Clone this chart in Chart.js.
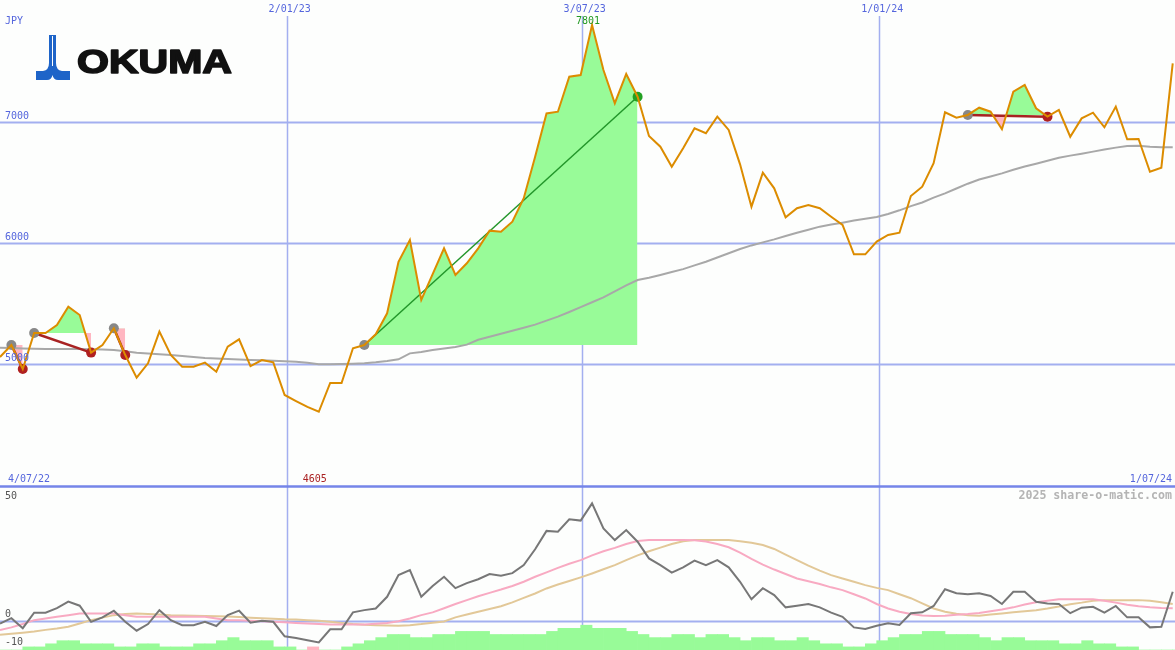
<!DOCTYPE html>
<html>
<head>
<meta charset="utf-8">
<script src="https://cdn.jsdelivr.net/npm/chart.js@4"></script>
<style>
body { margin: 0; background: #fdfefd; }
canvas { display: block; }
</style>
</head>
<body>
<canvas id="chart" width="1175" height="650"></canvas>
<script>
// weekly closes, JPY (week index 0 = 4/07/22)
const price = [
  5058, 5157, 4959, 5256, 5256, 5322, 5474, 5405, 5094, 5157,
  5295, 5074, 4887, 5006, 5267, 5074, 4978, 4978, 5011, 4936,
  5143, 5204, 4983, 5033, 5014, 4744, 4694, 4645, 4605, 4843,
  4843, 5130, 5157, 5245, 5419, 5845, 6025, 5529, 5742, 5956,
  5736, 5832, 5956, 6102, 6093, 6176, 6370, 6713, 7071, 7085,
  7374, 7388, 7801, 7430, 7155, 7397, 7209, 6884, 6796, 6630,
  6783, 6948, 6907, 7044, 6934, 6650, 6300, 6581, 6452, 6212,
  6287, 6314, 6287, 6217, 6149, 5906, 5906, 6011, 6066, 6085,
  6388, 6465, 6659, 7080, 7036, 7058, 7118, 7085, 6940, 7250,
  7306, 7113, 7044, 7099, 6878, 7030, 7077, 6956, 7127, 6857,
  6860, 6589, 6622, 7485
];
const priceMA = [
  5135, 5132, 5128, 5125, 5124, 5124, 5124, 5124, 5122, 5120,
  5116, 5105, 5093, 5087, 5080, 5074, 5066, 5058, 5050, 5046,
  5042, 5038, 5033, 5030, 5026, 5022, 5019, 5010, 4998, 4998,
  5000, 5002, 5006, 5014, 5025, 5039, 5088, 5100, 5115, 5128,
  5140, 5160, 5200, 5225, 5250, 5275, 5300, 5325, 5358, 5391,
  5430, 5470, 5510, 5550, 5600, 5650, 5694, 5712, 5736, 5760,
  5784, 5815, 5845, 5880, 5915, 5950, 5980, 6005, 6030, 6058,
  6084, 6110, 6135, 6152, 6168, 6185, 6200, 6215, 6240, 6270,
  6305, 6335, 6375, 6410, 6450, 6490, 6525, 6550, 6575, 6605,
  6632, 6655, 6680, 6705, 6722, 6738, 6755, 6772, 6788, 6802,
  6804, 6796, 6791, 6791
];
// lower panel
const osc = [
  -1.0, 0.9, -2.7, 2.9, 2.9, 4.5, 6.9, 5.4, -0.4, 1.2,
  3.6, -0.4, -3.6, -1.2, 3.8, 0.2, -1.6, -1.6, -0.4, -1.9,
  2.0, 3.6, -0.7, 0.0, -0.4, -5.6, -6.2, -7.0, -7.8, -3.1,
  -3.1, 3.0, 3.8, 4.4, 8.6, 16.4, 18.2, 8.6, 12.5, 15.8,
  11.7, 13.5, 14.9, 16.8, 16.2, 17.1, 20.0, 25.7, 32.3, 32.0,
  36.5, 36.0, 42.2, 33.2, 29.0, 32.6, 28.4, 22.4, 20.0, 17.3,
  19.2, 21.6, 20.0, 21.8, 19.2, 14.0, 7.7, 11.7, 9.2, 4.8,
  5.4, 6.0, 4.8, 2.9, 1.4, -2.4, -3.0, -1.8, -0.9, -1.5,
  2.7, 3.0, 5.3, 11.3, 9.9, 9.5, 9.9, 8.9, 6.0, 10.4,
  10.4, 6.8, 6.2, 6.0, 2.7, 4.7, 5.0, 2.9, 5.3, 1.2,
  1.2, -2.4, -2.2, 10.4
];
const oscFast = [
  -3.4, -2.4, -1.2, 0.2, 0.8, 1.4, 2.0, 2.6, 2.6, 2.6,
  2.6, 2.0, 1.4, 1.4, 1.4, 1.4, 1.4, 1.4, 1.4, 0.8,
  0.2, 0.2, 0.0, -0.2, -0.4, -0.6, -0.8, -1.0, -1.2, -1.4,
  -1.4, -1.4, -1.4, -1.1, -0.8, -0.2, 0.8, 2.0, 3.0, 4.5,
  6.0, 7.4, 8.8, 10.0, 11.2, 12.5, 14.0, 15.8, 17.4, 19.0,
  20.5, 21.8, 23.5, 25.0, 26.2, 27.6, 28.7, 29.0, 29.0, 29.0,
  29.0, 28.9, 28.5, 27.6, 26.4, 24.5, 22.2, 20.2, 18.4, 16.8,
  15.2, 14.2, 13.2, 12.0, 11.0, 9.5, 8.0, 6.0, 4.4, 3.2,
  2.4, 1.9, 1.7, 1.8, 2.1, 2.4, 2.8, 3.4, 4.0, 4.8,
  5.8, 6.6, 7.2, 7.7, 7.7, 7.7, 7.7, 7.2, 6.5, 5.7,
  5.2, 4.8, 4.6, 4.5
];
const oscSlow = [
  -5.1, -4.7, -4.3, -3.9, -3.3, -2.8, -2.2, -1.0, 0.2, 1.1,
  2.0, 2.4, 2.6, 2.4, 2.2, 2.0, 1.9, 1.8, 1.7, 1.6,
  1.5, 1.3, 1.1, 0.9, 0.7, 0.5, 0.4, 0.2, 0.0, -0.4,
  -0.8, -1.2, -1.5, -1.6, -1.7, -1.8, -1.6, -1.2, -0.7, -0.3,
  1.2, 2.2, 3.2, 4.2, 5.2, 6.6, 8.2, 9.8, 11.6, 13.0,
  14.3, 15.6, 17.0, 18.5, 20.0, 21.8, 23.5, 25.0, 26.3, 27.6,
  28.6, 29.0, 29.0, 29.0, 29.0, 28.6, 28.0, 27.2, 25.8, 23.8,
  21.8, 19.8, 18.0, 16.4, 15.2, 14.0, 12.8, 11.8, 11.0, 9.5,
  8.1, 6.2, 4.4, 3.2, 2.5, 2.0, 1.8, 2.2, 2.6, 3.0,
  3.4, 3.8, 4.4, 5.1, 5.9, 6.5, 7.2, 7.4, 7.4, 7.4,
  7.4, 7.2, 6.6, 6.0
];
const histLevels = [
  0, 0, 1, 1, 2, 3, 3, 2, 2, 2,
  1, 1, 2, 2, 1, 1, 1, 2, 2, 3,
  4, 3, 3, 3, 1, 1, 0, -1, 0, 0,
  1, 2, 3, 4, 5, 5, 4, 4, 5, 5,
  6, 6, 6, 5, 5, 5, 5, 5, 6, 7,
  7, 8, 7, 7, 7, 6, 5, 4, 4, 5,
  5, 4, 5, 5, 4, 3, 4, 4, 3, 3,
  4, 3, 2, 2, 1, 1, 2, 3, 4, 5,
  5, 6, 6, 5, 5, 5, 4, 3, 4, 4,
  3, 3, 3, 2, 2, 3, 2, 2, 1, 1,
  0, 0, 0, 0
];
const priceLevels = [5000, 6000, 7000];
const dateTicks = [25.18, 51.09, 77.23];
const dateLabels = ['2/01/23', '3/07/23', '1/01/24'];
const firstDate = '4/07/22';
const lastDate = '1/07/24';
// swing segments (start / end week)
const swingStart = [1, 3, 10, 32, 85];
const swingEnd = [2, 8, 11, 56, 92];

const pts = arr => arr.map((v, i) => ({ x: i, y: v }));
const blue = '#5566dd';
const gridBlue = '#a3aff0';

let datasets = [];

swingStart.forEach((s, k) => {
    let e = swingEnd[k];
    let up = price[e] > price[s];
    datasets.push({
        data: pts(price).slice(s, e + 1),
        yAxisID: 'yPrice', borderWidth: 0, pointRadius: 0,
        fill: { target: { value: price[s] }, above: '#98fb98', below: '#ffb6c1' },
        order: 10
    });
    datasets.push({
        data: [{ x: s, y: price[s] }, { x: e, y: price[e] }],
        yAxisID: 'yPrice', borderColor: up ? '#22962a' : '#a82222',
        borderWidth: up ? 1.5 : 2.5, pointRadius: 0, order: 6
    });
    datasets.push({
        data: [{ x: s, y: price[s] }, { x: e, y: price[e] }],
        yAxisID: 'yPrice', showLine: false, pointRadius: 5, pointBorderWidth: 0,
        pointBackgroundColor: ['#888888', up ? '#22a022' : '#b02020'],
        order: 4
    });
});

datasets.push({
    data: pts(priceMA), yAxisID: 'yPrice',
    borderColor: '#a8a8a8', borderWidth: 2, pointRadius: 0, order: 8
});
datasets.push({
    data: pts(price), yAxisID: 'yPrice',
    borderColor: '#dc8c00', borderWidth: 2, pointRadius: 0, order: 0
});

datasets.push({
    type: 'bar', yAxisID: 'yHist',
    data: histLevels.map((v, i) => ({ x: i + 0.5, y: Math.abs(v) })),
    backgroundColor: histLevels.map(v => v < 0 ? '#ffb6c1' : '#98fb98'),
    barPercentage: 1, categoryPercentage: 1, borderWidth: 0, order: 12
});
datasets.push({
    data: pts(oscSlow), yAxisID: 'yOsc',
    borderColor: '#e2c898', borderWidth: 2, pointRadius: 0, order: 3
});
datasets.push({
    data: pts(oscFast), yAxisID: 'yOsc',
    borderColor: '#f8aac2', borderWidth: 2, pointRadius: 0, order: 2
});
datasets.push({
    data: pts(osc), yAxisID: 'yOsc',
    borderColor: '#777777', borderWidth: 2, pointRadius: 0, order: 1
});

function drawLogo(ctx) {
    ctx.save();
    ctx.fillStyle = '#1e64c8';
    ctx.beginPath();
    ctx.moveTo(36, 71);
    ctx.lineTo(43, 71);
    ctx.quadraticCurveTo(49, 70, 49, 63);
    ctx.lineTo(49, 35);
    ctx.lineTo(56, 35);
    ctx.lineTo(56, 63);
    ctx.quadraticCurveTo(56, 70, 62, 71);
    ctx.lineTo(70, 71);
    ctx.lineTo(70, 80);
    ctx.lineTo(58, 80);
    ctx.quadraticCurveTo(53.5, 80, 52.5, 75);
    ctx.quadraticCurveTo(51.5, 80, 47, 80);
    ctx.lineTo(36, 80);
    ctx.closePath();
    ctx.fill();
    ctx.strokeStyle = '#ffffff';
    ctx.lineWidth = 1;
    ctx.beginPath();
    ctx.moveTo(52.5, 36);
    ctx.lineTo(52.5, 66);
    ctx.stroke();

    ctx.fillStyle = '#111111';
    ctx.strokeStyle = '#111111';
    ctx.lineWidth = 1.6;
    ctx.lineJoin = 'round';
    ctx.font = 'bold 33px "Liberation Sans"';
    ctx.textBaseline = 'alphabetic';
    ctx.textAlign = 'left';
    let w = ctx.measureText('OKUMA').width;
    ctx.translate(77, 73);
    ctx.scale(155 / w, 1);
    ctx.fillText('OKUMA', 0, 0);
    ctx.strokeText('OKUMA', 0, 0);
    ctx.restore();
}

const panels = {
    id: 'panels',
    beforeDatasetsDraw(chart) {
        const { ctx, chartArea: a, scales } = chart;
        ctx.save();
        ctx.strokeStyle = gridBlue;
        ctx.lineWidth = 2;
        priceLevels.forEach(v => {
            let y = Math.round(scales.yPrice.getPixelForValue(v)) + 0.5;
            ctx.beginPath(); ctx.moveTo(a.left, y); ctx.lineTo(a.right, y); ctx.stroke();
        });
        let y0 = Math.round(scales.yOsc.getPixelForValue(0)) + 0.5;
        ctx.beginPath(); ctx.moveTo(a.left, y0); ctx.lineTo(a.right, y0); ctx.stroke();
        ctx.lineWidth = 1.5;
        dateTicks.forEach(t => {
            let x = Math.round(scales.x.getPixelForValue(t)) + 0.5;
            ctx.beginPath(); ctx.moveTo(x, 16); ctx.lineTo(x, a.bottom); ctx.stroke();
        });
        ctx.strokeStyle = '#7585e8';
        ctx.lineWidth = 2.5;
        ctx.beginPath(); ctx.moveTo(a.left, 486.5); ctx.lineTo(a.right, 486.5); ctx.stroke();
        ctx.restore();
    },
    afterDraw(chart) {
        const { ctx, chartArea: a, scales } = chart;
        ctx.save();
        ctx.font = '10px "DejaVu Sans Mono"';
        ctx.textBaseline = 'middle';
        ctx.fillStyle = blue;
        ctx.textAlign = 'left';
        ctx.fillText('JPY', 5, 21);
        priceLevels.forEach(v => {
            ctx.fillText(String(v), 5, scales.yPrice.getPixelForValue(v) - 6);
        });
        ctx.fillText(firstDate, 8, 479);
        ctx.textAlign = 'right';
        ctx.fillText(lastDate, a.right - 3, 479);
        ctx.textAlign = 'center';
        dateTicks.forEach((t, k) => {
            ctx.fillText(dateLabels[k], scales.x.getPixelForValue(t) + 3, 9);
        });

        let hi = price.indexOf(Math.max(...price));
        let lo = price.indexOf(Math.min(...price));
        ctx.fillStyle = '#229922';
        ctx.fillText(String(price[hi]), scales.x.getPixelForValue(hi) - 4, 21);
        ctx.fillStyle = '#aa2222';
        ctx.fillText(String(price[lo]), scales.x.getPixelForValue(lo) - 4, 479);

        ctx.fillStyle = '#555555';
        ctx.textAlign = 'left';
        ctx.fillText('50', 5, Math.max(scales.yOsc.getPixelForValue(50) - 6, 496));
        ctx.fillText('0', 5, scales.yOsc.getPixelForValue(0) - 6);
        ctx.fillText('-10', 5, Math.min(scales.yOsc.getPixelForValue(-10) - 6, 642));

        ctx.font = 'bold 11.6px "DejaVu Sans Mono"';
        ctx.fillStyle = '#b4b4b4';
        ctx.textAlign = 'right';
        ctx.fillText('2025 share-o-matic.com', a.right - 3, 496);
        ctx.restore();

        drawLogo(ctx);
    }
};

new Chart(document.getElementById('chart'), {
    type: 'line',
    data: { datasets: datasets },
    options: {
        responsive: false,
        animation: false,
        layout: { padding: 0, autoPadding: false },
        elements: { line: { tension: 0 } },
        plugins: { legend: { display: false }, tooltip: { enabled: false } },
        scales: {
            x: { type: 'linear', display: false, offset: false, min: 0, max: 103.2 },
            yPrice: { type: 'linear', display: false, min: 2636.4, max: 8008.1 },
            yOsc: { type: 'linear', display: false, min: -10.54, max: 223.27 },
            yHist: { type: 'linear', display: false, min: 0, max: 209.7 }
        }
    },
    plugins: [panels]
});
</script>
</body>
</html>
